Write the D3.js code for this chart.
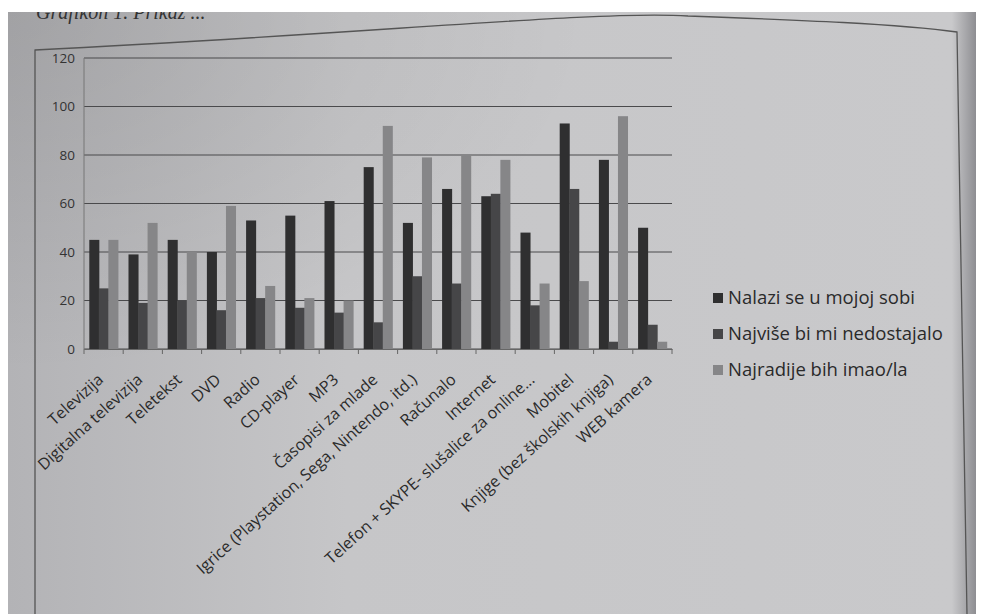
<!DOCTYPE html>
<html>
<head>
<meta charset="utf-8">
<script src="https://d3js.org/d3.v7.min.js"></script>
<style>
  body { margin: 0; background: #fff; }
</style>
</head>
<body>
<svg width="984" height="614"></svg>
<script>
var categories = ["Televizija", "Digitalna televizija", "Teletekst", "DVD", "Radio", "CD-player", "MP3",
  "Časopisi za mlade", "Igrice (Playstation, Sega, Nintendo, itd.)", "Računalo", "Internet",
  "Telefon + SKYPE- slušalice za online...", "Mobitel", "Knjige (bez školskih knjiga)", "WEB kamera"];
var seriesNames = ["Nalazi se u mojoj sobi", "Najviše bi mi nedostajalo", "Najradije bih imao/la"];
var nalazi = [45, 39, 45, 40, 53, 55, 61, 75, 52, 66, 63, 48, 93, 78, 50];
var nedostajalo = [25, 19, 20, 16, 21, 17, 15, 11, 30, 27, 64, 18, 66, 3, 10];
var najradije = [45, 52, 40, 59, 26, 21, 20, 92, 79, 80, 78, 27, 28, 96, 3];
var yTicks = [0, 20, 40, 60, 80, 100, 120];
var colors = ["#2f2f30", "#464648", "#868688"];

var svg = d3.select("svg");

// photographed page background
var defs = svg.append("defs");
var grad = defs.append("linearGradient").attr("id", "paper")
  .attr("x1", "0").attr("y1", "0").attr("x2", "1").attr("y2", "0");
grad.append("stop").attr("offset", "0").attr("stop-color", "#b3b3b6");
grad.append("stop").attr("offset", "0.35").attr("stop-color", "#c6c6c8");
grad.append("stop").attr("offset", "0.975").attr("stop-color", "#c9c9cb");
grad.append("stop").attr("offset", "1").attr("stop-color", "#8e8e92");
var shade = defs.append("radialGradient").attr("id", "shade")
  .attr("cx", "0").attr("cy", "0").attr("r", "0.6");
shade.append("stop").attr("offset", "0").attr("stop-color", "#000").attr("stop-opacity", 0.1);
shade.append("stop").attr("offset", "1").attr("stop-color", "#000").attr("stop-opacity", 0);
svg.append("rect").attr("x", 8).attr("y", 12).attr("width", 968).attr("height", 602)
  .attr("fill", "url(#paper)");
svg.append("rect").attr("x", 8).attr("y", 12).attr("width", 968).attr("height", 602)
  .attr("fill", "url(#shade)");

// caption, cut by the photo edge
svg.append("text").attr("x", 36).attr("y", 19)
  .attr("font-family", "Liberation Serif, serif").attr("font-style", "italic")
  .attr("font-size", 20).attr("fill", "#333")
  .text("Grafikon 1. Prikaz ...");
svg.append("rect").attr("x", 0).attr("y", 0).attr("width", 984).attr("height", 12).attr("fill", "#fff");

// chart frame
svg.append("path").attr("fill", "none").attr("stroke", "#555").attr("stroke-width", 1.3)
  .attr("d", "M35,614 L35,50 C380,33 600,10 688,16 C800,20 900,24 957,32 L967,614");

var margin = {left: 84, top: 58},
    width = 588, height = 291;
var g = svg.append("g").attr("transform", "translate(" + margin.left + "," + margin.top + ")");

var x = d3.scaleBand().domain(categories).range([0, width]).paddingInner(0.27).paddingOuter(0.135);
var xs = d3.scaleBand().domain([0, 1, 2]).range([0, x.bandwidth()]);
var y = d3.scaleLinear().domain([0, 120]).range([height, 0]);

// gridlines
g.append("g").selectAll("line").data(yTicks).join("line")
  .attr("x1", 0).attr("x2", width)
  .attr("y1", function(d) { return y(d); }).attr("y2", function(d) { return y(d); })
  .attr("stroke", "#4a4a4c").attr("stroke-width", 1.2);

// y labels
g.append("g").attr("font-family", "Open Sans, sans-serif").attr("font-size", 13.5).attr("fill", "#333")
  .selectAll("text").data(yTicks).join("text")
  .attr("x", -9).attr("y", function(d) { return y(d); }).attr("dy", "0.35em")
  .attr("text-anchor", "end").text(function(d) { return d; });

g.append("line").attr("x1", 0).attr("x2", 0).attr("y1", 0).attr("y2", height)
  .attr("stroke", "#777");

var series = [nalazi, nedostajalo, najradije];
series.forEach(function(vals, si) {
  g.append("g").selectAll("rect").data(vals).join("rect")
    .attr("x", function(d, i) { return x(categories[i]) + xs(si); })
    .attr("width", xs.bandwidth() + 0.5)
    .attr("y", function(d) { return y(d); })
    .attr("height", function(d) { return height - y(d); })
    .attr("fill", colors[si]);
});

// x axis with ticks between categories
var xAxis = g.append("g").attr("transform", "translate(0," + height + ")")
  .call(d3.axisBottom(x).tickSize(0).tickFormat(""));
xAxis.select(".domain").attr("stroke", "#666");
var step = x.step();
g.append("g").selectAll("line").data(d3.range(categories.length + 1)).join("line")
  .attr("x1", function(i) { return i * step; }).attr("x2", function(i) { return i * step; })
  .attr("y1", height).attr("y2", height + 5).attr("stroke", "#666");

g.append("g").attr("font-family", "Open Sans, sans-serif").attr("font-size", 16).attr("fill", "#2a2a2a")
  .selectAll("text").data(categories).join("text")
  .attr("transform", function(d) {
    return "translate(" + (x(d) + x.bandwidth() / 2 - 3) + "," + (height + 28) + ") rotate(-42)";
  })
  .attr("text-anchor", "end").attr("dy", "0.35em")
  .text(function(d) { return d; });

// legend
var legend = svg.append("g").attr("transform", "translate(728,298)")
  .attr("font-family", "Open Sans, sans-serif").attr("font-size", 18.5).attr("fill", "#2a2a2a");
seriesNames.forEach(function(name, i) {
  var row = legend.append("g").attr("transform", "translate(0," + i * 36 + ")");
  row.append("rect").attr("x", -15).attr("y", -5).attr("width", 10).attr("height", 10).attr("fill", colors[i]);
  row.append("text").attr("x", 0).attr("dy", "0.35em").text(name);
});
</script>
</body>
</html>
